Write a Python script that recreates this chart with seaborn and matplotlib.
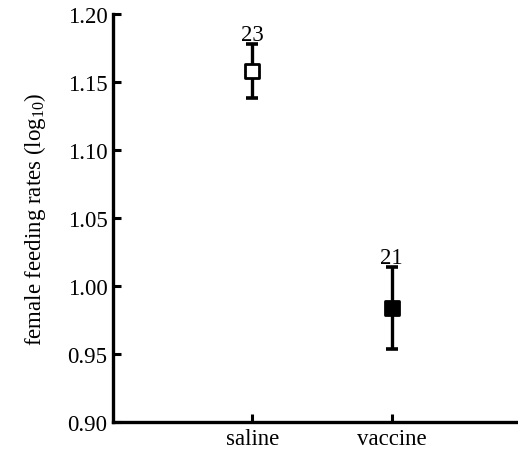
import numpy as np
import pandas as pd
import matplotlib
matplotlib.use("Agg")
import matplotlib.pyplot as plt
import seaborn as sns

# -----------------------------
# Data
# -----------------------------
groups = ["saline", "vaccine"]
means = [1.158, 0.984]
errs = [0.020, 0.030]
n_labels = ["23", "21"]
face_colors = ["white", "black"]

df = pd.DataFrame({"group": groups, "mean": means, "err": errs, "pos": [1, 2]})

# -----------------------------
# Style
# -----------------------------
sns.set_style("ticks", {"axes.edgecolor": "black", "text.color": "black",
                        "axes.labelcolor": "black", "xtick.color": "black",
                        "ytick.color": "black"})
plt.rcParams["font.family"] = ["Liberation Serif", "DejaVu Serif"]
plt.rcParams["mathtext.fontset"] = "custom"
plt.rcParams["mathtext.rm"] = "Liberation Serif"
plt.rcParams["mathtext.it"] = "Liberation Serif:italic"

FS = 16.5

fig = plt.figure(figsize=(5.18, 4.52), dpi=100)
ax = fig.add_axes([0.218, 0.064, 0.807, 0.903])

# error bars
ax.errorbar(df["pos"], df["mean"], yerr=df["err"], fmt="none",
            ecolor="black", elinewidth=2.4, capsize=4.5, capthick=2.6, zorder=2)

# markers
for i, row in df.iterrows():
    sns.scatterplot(x=[row["pos"]], y=[row["mean"]], ax=ax, marker="s", s=110,
                    color=face_colors[i], edgecolor="black", linewidth=2,
                    zorder=3, legend=False)
    ax.text(row["pos"], row["mean"] + row["err"] - 0.001, n_labels[i],
            ha="center", va="bottom", fontsize=FS, color="black")

ax.set_xlim(0, 3)
ax.set_ylim(0.90, 1.20)
ax.set_xticks(df["pos"])
ax.set_xticklabels(groups, fontsize=FS)
yt = np.round(np.arange(0.90, 1.201, 0.05), 2)
ax.set_yticks(yt)
ax.set_yticklabels([f"{v:.2f}" for v in yt], fontsize=FS)
ax.set_ylabel("female feeding rates (log$_{10}$)", fontsize=FS, labelpad=14)
ax.tick_params(direction="in", width=2.2, length=6, pad=4, colors="black")

for side in ["left", "bottom"]:
    ax.spines[side].set_linewidth(2.4)
    ax.spines[side].set_color("black")
sns.despine(ax=ax)

fig.savefig("out.png", dpi=100)
